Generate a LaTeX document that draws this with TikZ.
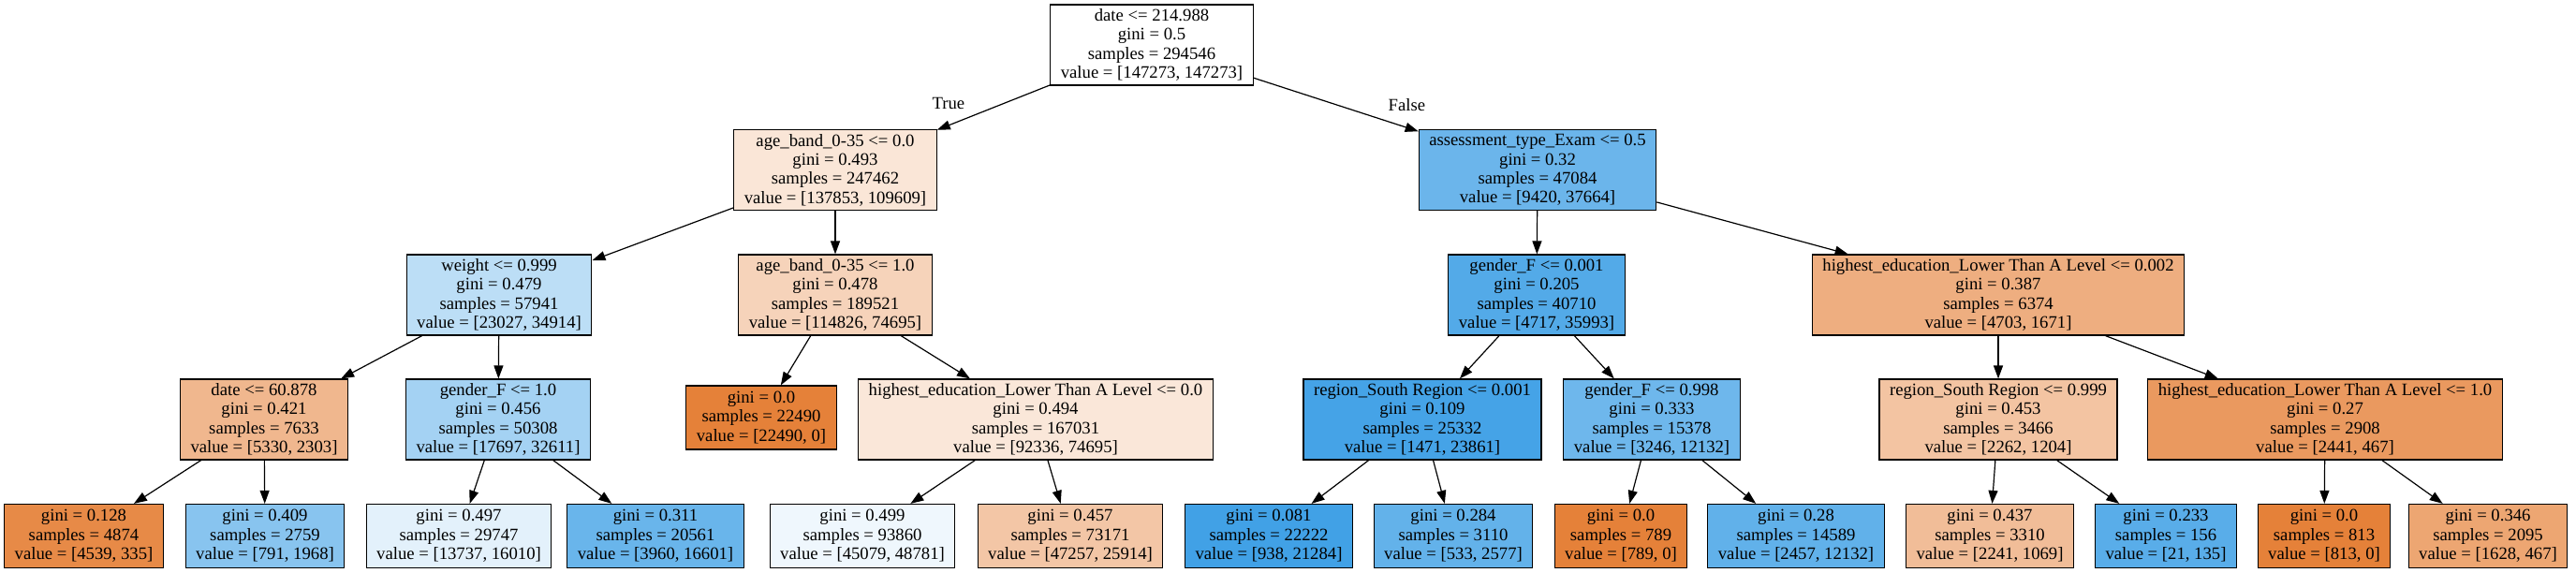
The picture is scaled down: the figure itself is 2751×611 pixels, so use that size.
\documentclass[tikz,border=0pt]{standalone}
\usepackage{xcolor}
\usepackage{fontspec}
\setmainfont{Liberation Serif}
\usepackage{tikz}
\usetikzlibrary{positioning,arrows.meta}
\definecolor{dtorange}{HTML}{E58139}
\definecolor{dtblue}{HTML}{399DE5}

\begin{document}
\begin{tikzpicture}[x=1pt,y=-1pt,
    every node/.style={font=\fontsize{18.7}{20.3}\selectfont},
    dtsplit/.style={draw=black,line width=1.2pt,align=center,inner xsep=11pt,inner ysep=0pt,minimum height=86pt},
    dtleaf/.style={dtsplit,minimum height=68pt},
    dtedge/.style={line width=1.2pt,-{Triangle[length=14pt,width=10pt]}},
    elabel/.style={inner sep=0pt}]
  \useasboundingbox (0,0) rectangle (2751,611);
  % split nodes
  \foreach \n/\x/\y/\c/\lab in {
    n0/1230/48/white/{date <= 214.988\\gini = 0.5\\samples = 294546\\value = [147273, 147273]},
    n1/892/181.5/dtorange!20/{age\_band\_0-35 <= 0.0\\gini = 0.493\\samples = 247462\\value = [137853, 109609]},
    n2/1642/181.5/dtblue!75/{assessment\_type\_Exam <= 0.5\\gini = 0.32\\samples = 47084\\value = [9420, 37664]},
    n3/533/315/dtblue!34/{weight <= 0.999\\gini = 0.479\\samples = 57941\\value = [23027, 34914]},
    n4/892/315/dtorange!35/{age\_band\_0-35 <= 1.0\\gini = 0.478\\samples = 189521\\value = [114826, 74695]},
    n5/1641/315/dtblue!87/{gender\_F <= 0.001\\gini = 0.205\\samples = 40710\\value = [4717, 35993]},
    n6/2134/315/dtorange!64/{highest\_education\_Lower Than A Level <= 0.002\\gini = 0.387\\samples = 6374\\value = [4703, 1671]},
    n7/282/448/dtorange!57/{date <= 60.878\\gini = 0.421\\samples = 7633\\value = [5330, 2303]},
    n8/532/448/dtblue!46/{gender\_F <= 1.0\\gini = 0.456\\samples = 50308\\value = [17697, 32611]},
    n10/1106/448/dtorange!19/{highest\_education\_Lower Than A Level <= 0.0\\gini = 0.494\\samples = 167031\\value = [92336, 74695]},
    n11/1519/448/dtblue!94/{region\_South Region <= 0.001\\gini = 0.109\\samples = 25332\\value = [1471, 23861]},
    n12/1764/448/dtblue!73/{gender\_F <= 0.998\\gini = 0.333\\samples = 15378\\value = [3246, 12132]},
    n13/2134/448/dtorange!47/{region\_South Region <= 0.999\\gini = 0.453\\samples = 3466\\value = [2262, 1204]},
    n14/2483/448/dtorange!81/{highest\_education\_Lower Than A Level <= 1.0\\gini = 0.27\\samples = 2908\\value = [2441, 467]}}
    {\node[dtsplit,fill=\c] (\n) at (\x,\y) {\lab};}
  % leaves
  \foreach \n/\x/\y/\c/\lab in {
    n9/813/446/dtorange/{gini = 0.0\\samples = 22490\\value = [22490, 0]},
    n15/89.5/572.5/dtorange!93/{gini = 0.128\\samples = 4874\\value = [4539, 335]},
    n16/283/572.5/dtblue!60/{gini = 0.409\\samples = 2759\\value = [791, 1968]},
    n17/490/572.5/dtblue!14/{gini = 0.497\\samples = 29747\\value = [13737, 16010]},
    n18/700/572.5/dtblue!76/{gini = 0.311\\samples = 20561\\value = [3960, 16601]},
    n19/921/572.5/dtblue!8/{gini = 0.499\\samples = 93860\\value = [45079, 48781]},
    n20/1143/572.5/dtorange!45/{gini = 0.457\\samples = 73171\\value = [47257, 25914]},
    n21/1355/572.5/dtblue!96/{gini = 0.081\\samples = 22222\\value = [938, 21284]},
    n22/1552/572.5/dtblue!79/{gini = 0.284\\samples = 3110\\value = [533, 2577]},
    n23/1731/572.5/dtorange/{gini = 0.0\\samples = 789\\value = [789, 0]},
    n24/1918/572.5/dtblue!80/{gini = 0.28\\samples = 14589\\value = [2457, 12132]},
    n25/2125/572.5/dtorange!52/{gini = 0.437\\samples = 3310\\value = [2241, 1069]},
    n26/2313/572.5/dtblue!84/{gini = 0.233\\samples = 156\\value = [21, 135]},
    n27/2482/572.5/dtorange/{gini = 0.0\\samples = 813\\value = [813, 0]},
    n28/2657/572.5/dtorange!71/{gini = 0.346\\samples = 2095\\value = [1628, 467]}}
    {\node[dtleaf,fill=\c] (\n) at (\x,\y) {\lab};}
  % edges
  \draw[dtedge] (n0) -- node[elabel,pos=0.9,above=17pt] (ltrue) {True} (n1);
  \draw[dtedge] (n0) -- node[elabel,pos=0.93,above=17pt] (lfalse) {False} (n2);
  \foreach \a/\b in {n1/n3,n1/n4,n2/n5,n2/n6,n3/n7,n3/n8,n4/n9,n4/n10,n5/n11,n5/n12,
    n6/n13,n6/n14,n7/n15,n7/n16,n8/n17,n8/n18,n10/n19,n10/n20,n11/n21,n11/n22,
    n12/n23,n12/n24,n13/n25,n13/n26,n14/n27,n14/n28}
    \draw[dtedge] (\a) -- (\b);
\end{tikzpicture}
\end{document}
